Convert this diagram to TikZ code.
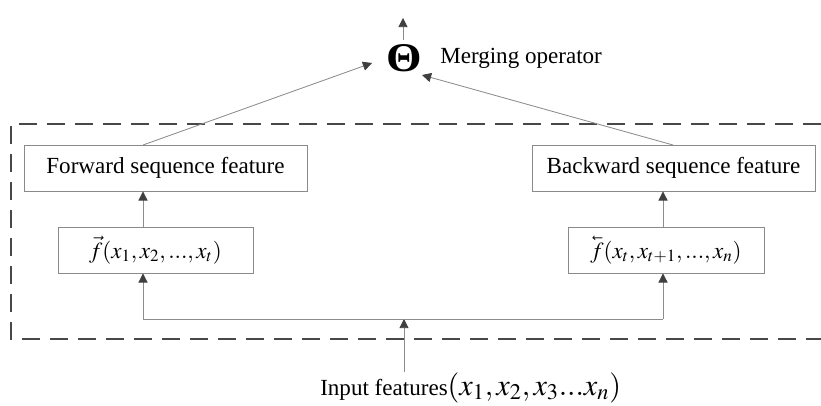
\documentclass[tikz,border=0pt]{standalone}
\usepackage{mathptmx}
\usepackage[no-math]{fontspec}
\setmainfont{Liberation Serif}
\usetikzlibrary{arrows.meta}
\definecolor{linegray}{HTML}{8C8C8C}
\definecolor{boxgray}{HTML}{8A8A8A}
\definecolor{tipgray}{HTML}{3F3F3F}
\definecolor{dashgray}{HTML}{484848}
\newcommand{\backvec}[1]{\reflectbox{$\vec{\reflectbox{$#1$}}$}}
\tikzset{
  px/.style={x=0.025cm,y=-0.025cm},
  box/.style={draw=boxgray, line width=0.6pt, inner sep=0pt, minimum height=1.15cm,
              font=\fontsize{16.4}{20}\selectfont},
  conn/.style={draw=linegray, line width=0.6pt,
               -{Triangle[length=6.5pt,width=6.5pt,color=tipgray]}},
  plain/.style={draw=linegray, line width=0.6pt},
  frame/.style={draw=dashgray, line width=1.8pt, dash pattern=on 0.45cm off 0.25cm},
  lbl/.style={inner sep=0pt, font=\fontsize{16.4}{20}\selectfont}
}
\begin{document}
\begin{tikzpicture}[px]
\useasboundingbox (0,0) rectangle (821,406);
% dashed frame (open on the right)
\draw[frame] (821,124) -- (11,124) -- (11,339) -- (821,339);
% boxes
\node[box, minimum width=7.075cm] (fwd) at (165.5,168) {Forward sequence feature};
\node[box, minimum width=7.075cm] (bwd) at (673.5,168) {Backward sequence feature};
\node[box, minimum width=4.875cm] (ffun) at (155.5,250) {$\vec{f}(x_1,x_2,...,x_t)$};
\node[box, minimum width=4.9cm] (bfun) at (666,250) {\backvec{f}$(x_t,x_{t+1},...,x_n)$};
% merging operator
\node[inner sep=0pt, font=\fontsize{29}{32}\selectfont\bfseries] (theta) at (404,58) {\scalebox{1.12}[1]{Θ}};
\node[lbl, anchor=west] (merge) at (440,58) {Merging operator};
\coordinate (outstart) at (403,40);
\coordinate (out) at (403,18);
\draw[conn] (outstart) -- (out);
% input
\node[lbl, anchor=base west] (inp) at (320,395) {Input features{\fontsize{21.5}{24}\selectfont$(x_1,x_2,x_3...x_n)$}};
\coordinate (instart) at (404,372);
\coordinate (join) at (404,319);
\coordinate (jl) at (143,319);
\coordinate (jr) at (663,319);
\draw[conn] (instart) -- (join);
\draw[plain] (jl) -- (jr);
\draw[conn] (jl) -- (jl |- ffun.south);
\draw[conn] (jr) -- (jr |- bfun.south);
\draw[conn] (jl |- ffun.north) -- (jl |- fwd.south);
\draw[conn] (jr |- bfun.north) -- (jr |- bwd.south);
% to merging operator
\coordinate (fwdtop) at (143,145);
\coordinate (bwdtop) at (673,145);
\coordinate (thl) at (372,63);
\coordinate (thr) at (422,75);
\draw[conn] (fwdtop) -- (thl);
\draw[conn] (bwdtop) -- (thr);
\end{tikzpicture}
\end{document}
